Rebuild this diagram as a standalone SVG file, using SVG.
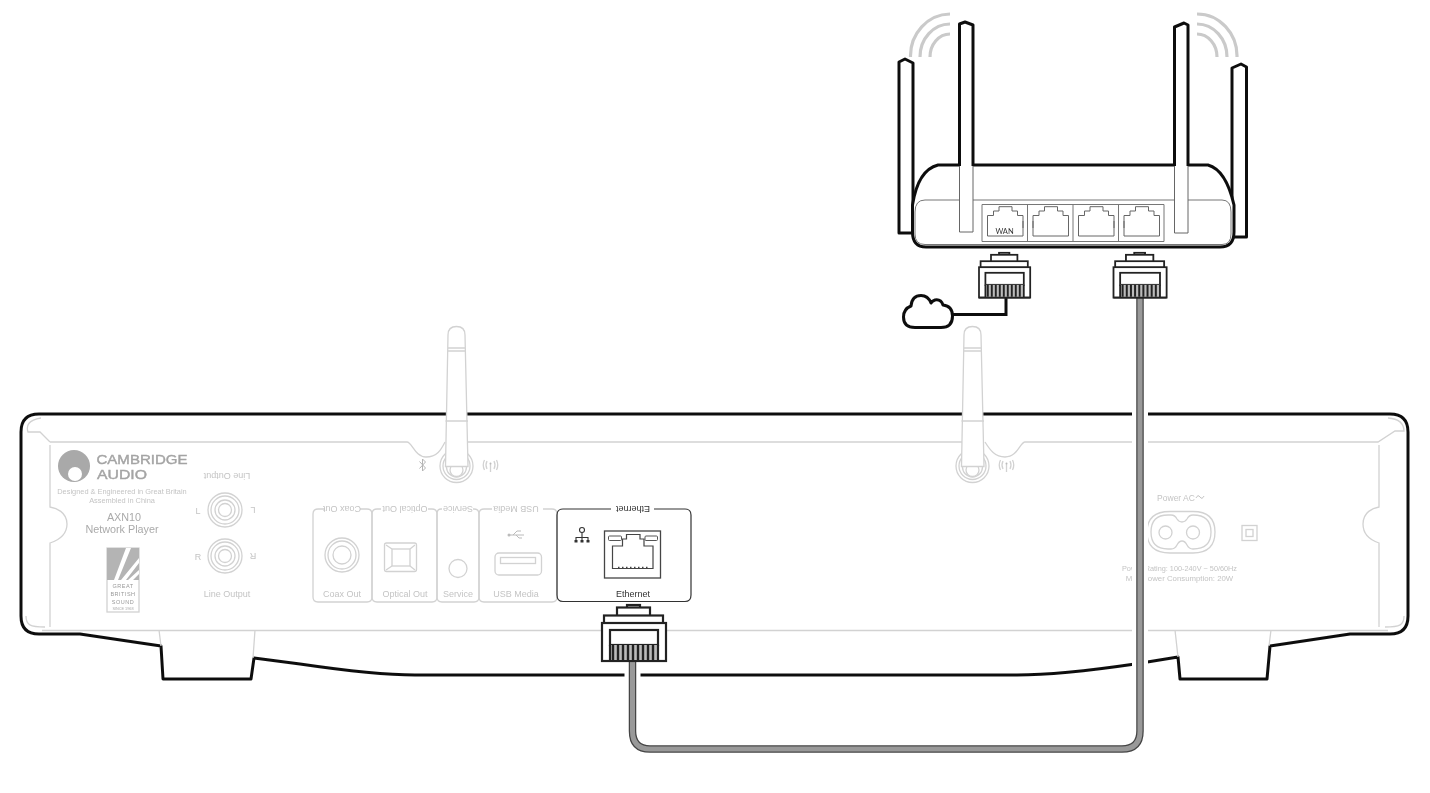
<svg xmlns="http://www.w3.org/2000/svg" width="1430" height="793" viewBox="0 0 1430 793">
<style>
text{font-family:"Liberation Sans",Arial,sans-serif;fill:#c4c4c4;text-anchor:middle}
.l{fill:none;stroke:#d2d2d2;stroke-width:1.3}
.lw{fill:#fff;stroke:#d2d2d2;stroke-width:1.3}
.t{fill:none;stroke:#111;stroke-width:3;stroke-linejoin:round}
.tw{fill:#fff;stroke:#111;stroke-width:3;stroke-linejoin:round}
.p{fill:none;stroke:#666;stroke-width:1}
.w{fill:none;stroke:#cacaca;stroke-width:3.2}
.s{font-size:9px}
.d{stroke:#222;stroke-width:2.2;fill:#fff}
.brand{font-size:13px;fill:#a4a4a4;stroke:#a4a4a4;stroke-width:.4px}
</style>
<defs>
<filter id="soft" x="0" y="0" width="100%" height="100%"><feGaussianBlur stdDeviation="0.35"/></filter>
<g id="rj45">
<rect class="d" x="25" y="1" width="13" height="3.5"/>
<rect class="d" x="15" y="3.500" width="33" height="13"/>
<rect class="d" x="2" y="11.500" width="59" height="8"/>
<rect class="d" x="0" y="19" width="64" height="38"/>
<rect class="d" x="8" y="26" width="48" height="15"/>
<rect x="8" y="41" width="48" height="15" fill="#bbb"/>
<path d="M11 41V56M16 41V56M21 41V56M26 41V56M31 41V56M36 41V56M41 41V56M46 41V56M51 41V56" stroke="#222" stroke-width="2.400" fill="none"/>
<path d="M0 57H64" stroke="#222" stroke-width="2.2"/>
<path d="M8 41V57M56 41V57" stroke="#222" stroke-width="2.2"/>
</g>
<path id="jack" class="p" d="M5.500 32V11.500H11.500V7H17V2.700H30V7H35.500V11.500H41V32ZM5.500 17v7M41 17v7"/>
</defs>
<g filter="url(#soft)">
<rect width="1430" height="793" fill="#fff"/>
<g id="chassis">
<path class="t" d="M39 414H1390Q1408 414 1408 432V616Q1408 634 1390 634H1350L1270 646L1267 679H1180L1178 657L1135 664Q1060 675 1017 675H415Q375 675 300 664L254 658L251 679H163L161 646L80 634H39Q21 634 21 616V432Q21 414 39 414Z"/>
<path class="l" d="M50 445V507C56 508 67 512 67 524C67 536 56 541 50 543V627M50 442L40 432H28C26 426 28 420 41 418M26 616C26 625 30 627 45 627M50 442H407C412 442 415 457 426 457C437 457 441 450 445 442M468 442H962M985 442C990 450 995 457 1005 457C1018 457 1020 442 1025 442H1378L1395 431H1404C1404 424 1400 419 1388 418M1379 445V507C1373 508 1363 512 1363 524C1363 536 1373 541 1379 543V627M1404 616C1404 625 1400 627 1385 627M42 630.500H1388M159 630L161 646M255 630L253 658M1175 630L1178 657M1271 630L1269 646"/>
</g>

<g id="logo">
<circle cx="74" cy="466" r="16" fill="#a9a9a9"/>
<circle cx="75" cy="474" r="7" fill="#fff"/>
<text class="brand" x="142" y="463.500" textLength="91" lengthAdjust="spacingAndGlyphs">CAMBRIDGE</text>
<text class="brand" x="122" y="478.500" textLength="50" lengthAdjust="spacingAndGlyphs">AUDIO</text>
<text x="122" y="494" font-size="7.400">Designed &amp; Engineered in Great Britain</text>
<text x="122" y="503" font-size="7.400">Assembled in China</text>
<text x="124" y="521" font-size="10.800" style="fill:#aaa">AXN10</text>
<text x="122" y="533" font-size="10.800" style="fill:#aaa">Network Player</text>
</g>

<g id="badge">
<rect class="l" x="107" y="548" width="32" height="64"/>
<path d="M107 548H139V580H107Z" fill="#b4b4b4"/>
<path d="M114 580L126 548H131L118 580ZM121 580L139 558V563L126 580ZM128 580L139 570V574L133 580Z" fill="#fff"/>
<text x="123" y="587.500" font-size="5.500" style="fill:#999;letter-spacing:.5px">GREAT</text>
<text x="123" y="595.500" font-size="5.500" style="fill:#999;letter-spacing:.5px">BRITISH</text>
<text x="123" y="603.500" font-size="5.500" style="fill:#999;letter-spacing:.5px">SOUND</text>
<text x="123" y="610" font-size="3.800" style="fill:#aaa">SINCE 1968</text>
</g>

<g id="line-output">
<text class="s" transform="rotate(180 227 476)" x="227" y="479">Line Output</text>
<text class="s" x="227" y="597">Line Output</text>
<circle class="l" cx="225" cy="510" r="17"/><circle class="l" cx="225" cy="510" r="14"/><circle class="l" cx="225" cy="510" r="10"/><circle class="l" cx="225" cy="510" r="6.500"/>
<circle class="l" cx="225" cy="556" r="17"/><circle class="l" cx="225" cy="556" r="14"/><circle class="l" cx="225" cy="556" r="10"/><circle class="l" cx="225" cy="556" r="6.500"/>
<text class="s" x="198" y="514">L</text>
<text class="s" transform="rotate(180 253 510.500)" x="253" y="514">L</text>
<text class="s" x="198" y="560">R</text>
<text class="s" transform="rotate(180 253 556)" x="253" y="559.500">R</text>
</g>

<g id="coax-out">
<path class="l" d="M325 509H318Q313 509 313 514V597Q313 602 318 602H367Q372 602 372 597V514Q372 509 367 509H360"/>
<text class="s" transform="rotate(180 342 509)" x="342" y="512">Coax Out</text>
<text class="s" x="342" y="597">Coax Out</text>
<circle class="l" cx="342" cy="555" r="17"/><circle class="l" cx="342" cy="555" r="14"/><circle class="l" cx="342" cy="555" r="9"/>
</g>
<g id="optical-out">
<path class="l" d="M381 509H377Q372 509 372 514V597Q372 602 377 602H432Q437 602 437 597V514Q437 509 432 509H428"/>
<text class="s" transform="rotate(180 405 509)" x="405" y="512">Optical Out</text>
<text class="s" x="405" y="597">Optical Out</text>
<rect class="l" x="384.500" y="543" width="32" height="28.500" rx="2"/>
<rect class="l" x="392" y="549" width="18" height="17"/>
<path class="l" d="M386 545L392 549M415 545L410 549M386 570L392 566M415 570L410 566"/>
</g>
<g id="service">
<path class="l" d="M442 509H441Q437 509 437 514V597Q437 602 442 602H474Q479 602 479 597V514Q479 509 474 509H473"/>
<text class="s" transform="rotate(180 458 509)" x="458" y="512">Service</text>
<text class="s" x="458" y="597">Service</text>
<circle class="l" cx="458" cy="568.500" r="9"/>
</g>
<g id="usb-media">
<path class="l" d="M492 509H484Q479 509 479 514V597Q479 602 484 602H552Q557 602 557 597V514Q557 509 552 509H543"/>
<text class="s" transform="rotate(180 516 509)" x="516" y="512">USB Media</text>
<text class="s" x="516" y="597">USB Media</text>
<rect class="l" x="495" y="553" width="46.500" height="22" rx="4"/>
<rect class="l" x="500.500" y="557.500" width="35" height="6"/>
<path d="M509 535H524M513 535L517 531H521M516 535L519 538H522" fill="none" stroke="#bbb" stroke-width="1"/>
<circle cx="509" cy="535" r="1.500" fill="#bbb"/>
</g>
<g id="ethernet">
<path d="M611 509H563Q557 509 557 515V595Q557 601.500 563 601.500H685Q691 601.500 691 595V515Q691 509 685 509H654" fill="none" stroke="#333" stroke-width="1.200"/>
<text transform="rotate(180 633 509)" x="633" y="512" font-size="9" style="fill:#333">Ethernet</text>
<text x="633" y="597" font-size="9" style="fill:#333">Ethernet</text>
<g fill="none" stroke="#333" stroke-width="1.100">
<circle cx="582" cy="530" r="2.500"/>
<path d="M582 532.500V538M576 541V537.500H588V541M582 537.500V541"/>
</g>
<path d="M574.500 540h3v2.500h-3zM580.500 540h3v2.500h-3zM586.500 540h3v2.500h-3z" fill="#333"/>
<rect x="604.500" y="531" width="56" height="47" fill="#fff" stroke="#444" stroke-width="1.300"/>
<rect x="608.500" y="536" width="13" height="4.500" rx="1" fill="#fff" stroke="#555"/>
<rect x="645" y="536" width="12.500" height="4.500" rx="1" fill="#fff" stroke="#555"/>
<path d="M612.500 568.500V546H622.500V539H626.500V534.500H640V539H644V546H653V568.500ZM612.500 551v8M653 551v8" fill="none" stroke="#444" stroke-width="1.200"/>
<path d="M618 567.500H648" stroke="#444" stroke-width="1.500" stroke-dasharray="1.500 2.500" fill="none"/>
</g>

<g id="bluetooth-icon"><path d="M419.500 461.500L425.500 468L422.500 471V459L425.500 462L419.500 468.500" fill="none" stroke="#b5b5b5" stroke-width="1"/></g>
<g id="wifi-icon-left"><path class="l" d="M490.500 464V472M487 461Q485 465 487 469M494 461Q496 465 494 469M484.500 460Q482 465 484.500 470M496.500 460Q499 465 496.500 470" stroke-width="1"/><circle cx="490.500" cy="463.500" r="1" fill="#bbb"/></g>
<g id="wifi-icon-right"><path class="l" d="M1006.500 464V472M1003 461Q1001 465 1003 469M1010 461Q1012 465 1010 469M1000.500 460Q998 465 1000.500 470M1012.500 460Q1015 465 1012.500 470" stroke-width="1"/><circle cx="1006.500" cy="463.500" r="1" fill="#bbb"/></g>

<g id="antenna-left">
<circle class="lw" cx="456.500" cy="466" r="16.500"/><circle class="l" cx="456.500" cy="466" r="13.500"/><circle class="l" cx="456.500" cy="467" r="10"/><circle class="l" cx="456.500" cy="470" r="6.500"/>
<path class="lw" d="M448 335Q448 326.500 456.500 326.500Q465 326.500 465 335L468 466.500H445.500Z"/>
<path class="l" d="M448 348H465M448 351H465M445.500 421H468"/>
</g>
<g id="antenna-right">
<circle class="lw" cx="972.500" cy="466" r="16.500"/><circle class="l" cx="972.500" cy="466" r="13.500"/><circle class="l" cx="972.500" cy="467" r="10"/><circle class="l" cx="972.500" cy="470" r="6.500"/>
<path class="lw" d="M964 335Q964 326.500 972.500 326.500Q981 326.500 981 335L984 466.500H961.500Z"/>
<path class="l" d="M964 348H981M964 351H981M961.500 421H984"/>
</g>

<g id="power">
<text x="1176" y="500.500" font-size="8.500">Power AC</text>
<path d="M1196 498Q1198 494 1200 497Q1202 500 1204 496" fill="none" stroke="#c4c4c4"/>
<path class="l" d="M1147 532Q1147 511.500 1170 511.500H1193Q1215 511.500 1215 532Q1215 553 1193 553H1170Q1147 553 1147 532Z"/>
<path class="l" d="M1151 532Q1151 515 1168 515H1171Q1175 515 1177 519Q1179 522 1182 522Q1185 522 1187 519Q1189 515 1193 515Q1211 515 1211 532Q1211 549 1193 549Q1189 549 1187 545Q1185 541 1182 541Q1179 541 1177 545Q1175 549 1171 549H1168Q1151 549 1151 532Z"/>
<circle class="l" cx="1165.500" cy="532.500" r="6.500" stroke-width="1.600"/><circle class="l" cx="1193" cy="532.500" r="6.500" stroke-width="1.600"/>
<rect class="l" x="1242" y="525.500" width="15" height="15" stroke-width="1.500"/><rect class="l" x="1246" y="529.500" width="7" height="7" stroke-width="1.300"/>
<text x="1179.500" y="571" font-size="7.300">Power Rating: 100-240V ~ 50/60Hz</text>
<text x="1179.500" y="581" font-size="7.800">Max Power Consumption: 20W</text>
</g>

<g id="connectors">
<path d="M632.500 661V731Q632.500 749 650 749H1122Q1140 749 1140 731V297" fill="none" stroke="#fff" stroke-width="16"/>
<path d="M632.500 661V731Q632.500 749 650 749H1122Q1140 749 1140 731V297" fill="none" stroke="#444" stroke-width="7.500"/>
<path d="M632.500 661V731Q632.500 749 650 749H1122Q1140 749 1140 731V297" fill="none" stroke="#999" stroke-width="5"/>
<path d="M953 314.500H1006V297" fill="none" stroke="#111" stroke-width="3"/>
</g>

<g id="ethernet-plug"><use href="#rj45" transform="translate(602 604)"/></g>

<g id="router">
<path class="w" d="M910.500 57A40 42 0 0 1 950 14M920 57A30 33 0 0 1 950 24M930 57A20 23 0 0 1 950 34M1237 57A40 42 0 0 0 1197 14M1227 57A30 33 0 0 0 1197 24M1217 57A20 23 0 0 0 1197 34"/>
<path class="tw" d="M899 233V62L905 59L913 63V233Z"/>
<path class="tw" d="M1232 237V68L1241 64L1246.500 67V237Z"/>
<path class="tw" d="M912.500 205Q918 170 938 165H1208Q1226 170 1234 205V232Q1234 247 1220 247H926Q912.500 247 912.500 232Z"/>
<path d="M915 212Q915 200 925 200H1222Q1231 200 1231 212V234Q1231 244.500 1222 244.500H925Q915 244.500 915 234Z" fill="#fff" stroke="#777" stroke-width="1"/>
<path d="M959.500 165V232H973V165" fill="#fff" stroke="#666" stroke-width="1"/>
<path d="M1174.500 165V233H1188V165" fill="#fff" stroke="#666" stroke-width="1"/>
<path class="tw" d="M959.500 166V24L965 22L973 25V166"/>
<path class="tw" d="M1174.500 166V27L1184 23L1188 25V166"/>
<path d="M982 204.500H1164V241.500H982ZM1027.500 204.500V241.500M1073 204.500V241.500M1118.500 204.500V241.500" fill="#fff" stroke="#777" stroke-width="1"/>
<use href="#jack" x="982" y="204"/><use href="#jack" x="1027.500" y="204"/><use href="#jack" x="1073" y="204"/><use href="#jack" x="1118.500" y="204"/>
<text x="1004.500" y="234" font-size="7.500" style="fill:#333;font-family:Lato,sans-serif">WAN</text>
</g>
<g id="wan-plug"><use href="#rj45" transform="translate(979 252) scale(.8)"/></g>
<g id="lan-plug"><use href="#rj45" transform="translate(1113.500 252) scale(.83 .8)"/></g>
<g id="cloud">
<path class="tw" d="M915 327.500H941Q952.500 327.500 952.500 316Q952.500 306 943 305Q941 299 935 300Q932 301 931 303Q928 295.500 921 295.500Q912 295.500 911 306Q903.500 309 903.500 317Q903.500 327.500 915 327.500Z"/>
</g>
</g>
</svg>
